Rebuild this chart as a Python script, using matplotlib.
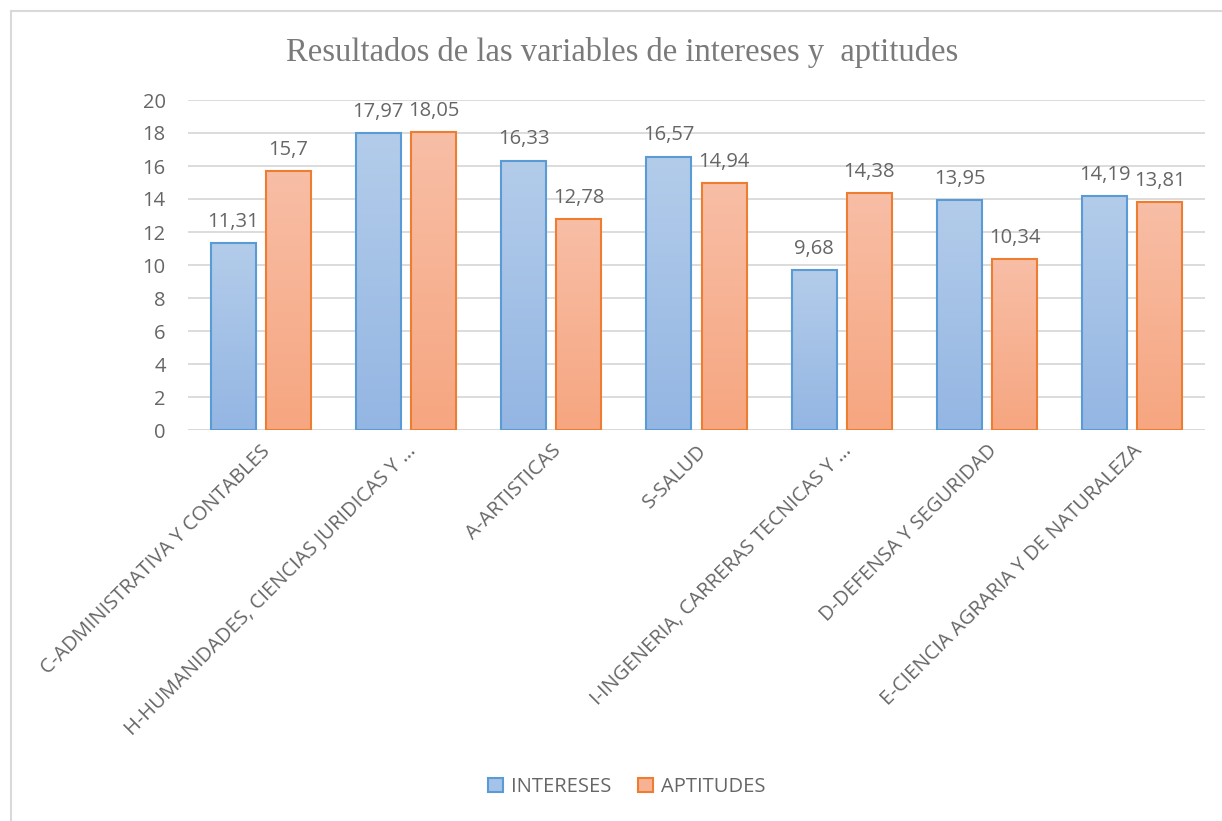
import numpy as np
import matplotlib
matplotlib.use("Agg")
import matplotlib.pyplot as plt
from matplotlib.colors import LinearSegmentedColormap
from matplotlib.patches import Patch
from matplotlib.lines import Line2D

categorias = [
    "C-ADMINISTRATIVA Y CONTABLES",
    "H-HUMANIDADES, CIENCIAS JURIDICAS Y …",
    "A-ARTISTICAS",
    "S-SALUD",
    "I-INGENERIA, CARRERAS TECNICAS Y …",
    "D-DEFENSA Y SEGURIDAD",
    "E-CIENCIA AGRARIA Y DE NATURALEZA",
]
intereses = [11.31, 17.97, 16.33, 16.57, 9.68, 13.95, 14.19]
aptitudes = [15.7, 18.05, 12.78, 14.94, 14.38, 10.34, 13.81]
etiquetas_int = ["11,31", "17,97", "16,33", "16,57", "9,68", "13,95", "14,19"]
etiquetas_apt = ["15,7", "18,05", "12,78", "14,94", "14,38", "10,34", "13,81"]

texto = "#666666"
grid = "#D9D9D9"
font = "Open Sans"
fs = 14.5

fig = plt.figure(figsize=(12.22, 8.21), dpi=100)
ax = fig.add_axes([188 / 1222, 1 - 430 / 821, (1205 - 188) / 1222, 330 / 821])

x = np.arange(len(categorias))
ancho = 0.31
desp = 0.19

azul = LinearSegmentedColormap.from_list("azul", ["#94B6E3", "#B3CCEA"])
naranja = LinearSegmentedColormap.from_list("naranja", ["#F6A680", "#F8BEA6"])
grad = np.linspace(0, 1, 256).reshape(-1, 1)


def barras(xs, vals, cmap, borde):
    bars = ax.bar(xs, vals, ancho, facecolor="none", edgecolor=borde,
                  linewidth=1.5, zorder=3)
    for b in bars:
        x0, w, h = b.get_x(), b.get_width(), b.get_height()
        ax.imshow(grad, cmap=cmap, origin="lower", aspect="auto",
                  extent=[x0, x0 + w, 0, h], zorder=2)
    return bars


b1 = barras(x - desp, intereses, azul, "#5B9BD5")
b2 = barras(x + desp, aptitudes, naranja, "#ED7D31")

for xs, vals, labs in [(x - desp, intereses, etiquetas_int),
                       (x + desp, aptitudes, etiquetas_apt)]:
    for xi, v, t in zip(xs, vals, labs):
        ax.annotate(t, (xi, v), xytext=(0, 8), textcoords="offset points",
                    ha="center", va="bottom", fontsize=fs, color=texto,
                    family=font)

ax.set_xlim(-0.5, len(categorias) - 0.5)
ax.set_ylim(0, 20)
ax.set_yticks(range(0, 21, 2))
ax.yaxis.grid(True, color=grid, linewidth=1.3)
ax.set_axisbelow(True)
for s in ax.spines.values():
    s.set_visible(False)
ax.axhline(0, color=grid, linewidth=1.3, zorder=1)
ax.tick_params(length=0, labelsize=fs, colors=texto)
ax.tick_params(axis="y", pad=16)
ax.tick_params(axis="x", pad=8)
ax.set_xticks(x)
ax.set_xticklabels(categorias, rotation=45, ha="right", rotation_mode="anchor",
                   family=font)
for t in ax.get_yticklabels():
    t.set_family(font)

fig.text(622 / 1222, 1 - 53 / 821, "Resultados de las variables de intereses y  aptitudes",
         ha="center", va="center", fontsize=23.5, color="#7A7A7A",
         family="Liberation Serif")

handles = [Patch(facecolor="#A5C2E8", edgecolor="#5B9BD5", linewidth=1.5),
           Patch(facecolor="#F7B294", edgecolor="#ED7D31", linewidth=1.5)]
leg = fig.legend(handles, ["INTERESES", "APTITUDES"], loc="center",
                 bbox_to_anchor=(627 / 1222, 1 - 787 / 821), ncol=2, frameon=False,
                 prop={"family": font, "size": fs}, handlelength=0.75,
                 handleheight=0.75, handletextpad=0.4, columnspacing=1.3)
for t in leg.get_texts():
    t.set_color(texto)

fig.add_artist(Line2D([11 / 1222, 1], [1 - 11 / 821, 1 - 11 / 821],
                      transform=fig.transFigure, color=grid, linewidth=1.5))
fig.add_artist(Line2D([11 / 1222, 11 / 1222], [0, 1 - 11 / 821],
                      transform=fig.transFigure, color=grid, linewidth=1.5))

fig.savefig("out.png", dpi=100)
